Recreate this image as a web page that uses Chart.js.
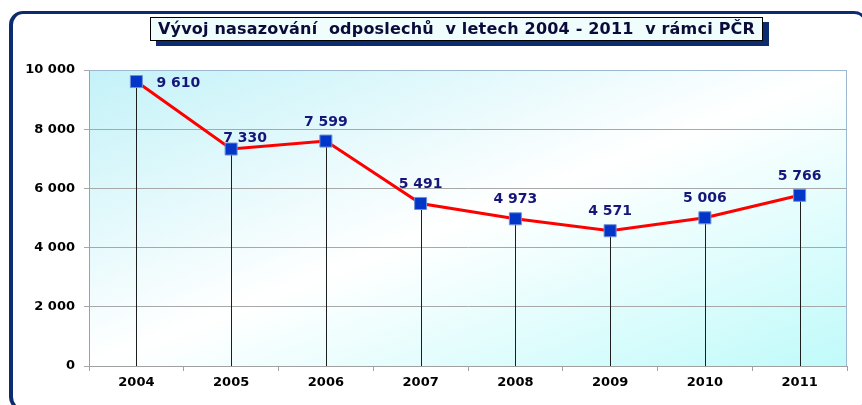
<!DOCTYPE html>
<html lang="cs">
<head>
<meta charset="utf-8">
<script src="https://cdn.jsdelivr.net/npm/chart.js@4/dist/chart.umd.min.js"></script>
<style>
    html, body { margin: 0; padding: 0; background: #fff; }
    #wrap { position: relative; width: 862px; height: 405px; overflow: hidden; }
    #frame {
        position: absolute; left: 9px; top: 11px; width: 852px; height: 394px;
        border: 3px solid #0d2b6f; border-left-width: 4px; border-radius: 14px;
    }
    #title {
        position: absolute; left: 150px; top: 17px; width: 611px; height: 22px;
        border: 1px solid #000; background: #effdfd; box-shadow: 6px 5px 0 #0d2b6f;
        font: bold 16px "DejaVu Sans", sans-serif; letter-spacing: 0.2px; color: #0b0b3a;
        line-height: 22px; text-align: center; white-space: pre;
    }
    canvas { position: absolute; left: 0; top: 0; }
</style>
</head>
<body>
<div id="wrap">
    <div id="frame"></div>
    <canvas id="chart" width="862" height="405"></canvas>
    <div id="title">Vývoj nasazování  odposlechů  v letech 2004 - 2011  v rámci PČR</div>
</div>
<script>
const years = ["2004", "2005", "2006", "2007", "2008", "2009", "2010", "2011"];
const counts = [9610, 7330, 7599, 5491, 4973, 4571, 5006, 5766];
const yTicks = [0, 2000, 4000, 6000, 8000, 10000];

function formatNumber(value) {
    return String(value).replace(/\B(?=(\d{3})+(?!\d))/g, " ");
}

// light cyan corners, white across the middle
const plotBackground = {
    id: "plotBackground",
    beforeDraw(chart) {
        const { ctx, chartArea: a } = chart;
        const cx = (a.left + a.right) / 2;
        const cy = (a.top + a.bottom) / 2;
        const w = a.right - a.left;
        const h = a.bottom - a.top;
        const len = Math.hypot(w, h);
        const nx = h / len;
        const ny = w / len;
        const k = (w / 2) * nx + (h / 2) * ny;
        const g = ctx.createLinearGradient(cx - k * nx, cy - k * ny, cx + k * nx, cy + k * ny);
        g.addColorStop(0, "#c3f2f8");
        g.addColorStop(0.5, "#ffffff");
        g.addColorStop(1, "#c0fafa");
        ctx.save();
        ctx.fillStyle = g;
        ctx.fillRect(a.left, a.top, w, h);
        ctx.restore();
    },
    afterDraw(chart) {
        const { ctx, chartArea: a } = chart;
        ctx.save();
        ctx.strokeStyle = "#9fb8d2";
        ctx.lineWidth = 1;
        ctx.beginPath();
        ctx.moveTo(a.left, a.top + 0.5);
        ctx.lineTo(a.right - 0.5, a.top + 0.5);
        ctx.lineTo(a.right - 0.5, a.bottom);
        ctx.stroke();
        ctx.restore();
    },
};

// vertical drop lines from each point down to the axis
const dropLines = {
    id: "dropLines",
    beforeDatasetsDraw(chart) {
        const { ctx, chartArea: a } = chart;
        const points = chart.getDatasetMeta(0).data;
        ctx.save();
        ctx.strokeStyle = "#1e1e1e";
        ctx.lineWidth = 1;
        points.forEach((p) => {
            const x = Math.round(p.x) + 0.5;
            ctx.beginPath();
            ctx.moveTo(x, p.y);
            ctx.lineTo(x, a.bottom);
            ctx.stroke();
        });
        ctx.restore();
    },
};

const valueLabels = {
    id: "valueLabels",
    afterDatasetsDraw(chart) {
        const { ctx } = chart;
        const points = chart.getDatasetMeta(0).data;
        ctx.save();
        ctx.font = "bold 14px 'DejaVu Sans', sans-serif";
        ctx.fillStyle = "#16167a";
        ctx.textBaseline = "middle";
        points.forEach((p, i) => {
            const text = formatNumber(counts[i]);
            if (i === 0) {
                ctx.textAlign = "left";
                ctx.fillText(text, p.x + 20, p.y + 2);
            } else if (i === 1) {
                ctx.textAlign = "center";
                ctx.fillText(text, p.x + 14, p.y - 11);
            } else {
                ctx.textAlign = "center";
                ctx.fillText(text, p.x, p.y - 19);
            }
        });
        ctx.restore();
    },
};

new Chart(document.getElementById("chart"), {
    type: "line",
    data: {
        labels: years,
        datasets: [{
            data: counts,
            borderColor: "#ff0000",
            borderWidth: 3,
            tension: 0,
            pointStyle: "rect",
            pointRadius: 8.5,
            pointHoverRadius: 8.5,
            pointBackgroundColor: "#0236c8",
            pointBorderColor: "#6f8fd8",
            pointBorderWidth: 1,
        }],
    },
    options: {
        responsive: false,
        animation: false,
        layout: { padding: { top: 70, right: 15, left: 0, bottom: 0 } },
        plugins: { legend: { display: false }, title: { display: false }, tooltip: { enabled: false } },
        scales: {
            x: {
                offset: true,
                afterFit: (scale) => { scale.height = 39; },
                grid: { offset: true, drawOnChartArea: false, tickLength: 5, color: "#a0a0a0" },
                border: { color: "#a0a0a0" },
                ticks: { color: "#000", padding: 4, font: { family: "DejaVu Sans", weight: "bold", size: 13 } },
            },
            y: {
                min: 0,
                max: 10000,
                afterFit: (scale) => { scale.width = 89; },
                afterBuildTicks: (scale) => { scale.ticks = yTicks.map((value) => ({ value })); },
                grid: { color: "#a8a8a8", tickLength: 5 },
                border: { color: "#a0a0a0" },
                ticks: {
                    color: "#000",
                    padding: 9,
                    font: { family: "DejaVu Sans", weight: "bold", size: 13 },
                    callback: (value) => formatNumber(value),
                },
            },
        },
    },
    plugins: [plotBackground, dropLines, valueLabels],
});
</script>
</body>
</html>
